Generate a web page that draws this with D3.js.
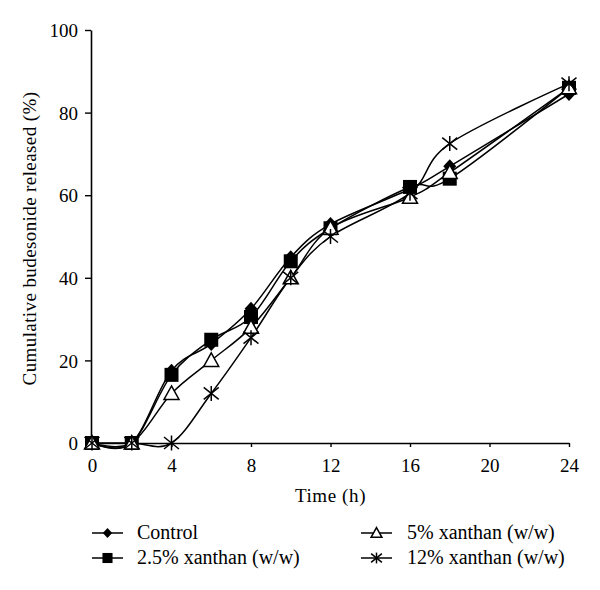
<!DOCTYPE html>
<html>
<head>
<meta charset="utf-8">
<script src="https://cdn.jsdelivr.net/npm/d3@7"></script>
<style>
  body { margin: 0; background: #fff; }
  text { font-family: "Liberation Serif", "DejaVu Serif", serif; fill: #000; }
</style>
</head>
<body>
<div id="chart"></div>
<script>
// time points (h)
const times = [0, 2, 4, 6, 8, 10, 12, 16, 18, 24];

// cumulative budesonide released (%)
const control = [0, 0, 17.5, 24, 32.5, 45, 53, 61.5, 67, 84.5];
const xanthan25 = [0, 0, 16.5, 25, 30.5, 44, 52, 62, 64, 86];
const xanthan5 = [0, 0, 12, 20, 28, 40, 52, 59.5, 65.5, 86];
const xanthan12 = [0, 0, 0, 12, 25.5, 40, 50, 60.5, 72.5, 87];

const xTicks = [0, 4, 8, 12, 16, 20, 24];
const yTicks = [0, 20, 40, 60, 80, 100];

const series = [
  { name: "Control", values: control, symbol: "diamond" },
  { name: "2.5% xanthan (w/w)", values: xanthan25, symbol: "square" },
  { name: "5% xanthan (w/w)", values: xanthan5, symbol: "triangle" },
  { name: "12% xanthan (w/w)", values: xanthan12, symbol: "star" }
];

const width = 600, height = 590;
const svg = d3.select("#chart").append("svg")
  .attr("width", width).attr("height", height);

const x = d3.scaleLinear().domain([0, 24]).range([92, 569]);
const y = d3.scaleLinear().domain([0, 100]).range([443, 30]);

// axes
const xAxis = svg.append("g")
  .attr("transform", `translate(0, ${y(0)})`)
  .call(d3.axisBottom(x).tickValues(xTicks).tickSize(4).tickSizeOuter(0).tickPadding(12));
const yAxis = svg.append("g")
  .attr("transform", `translate(${x(0) - 1}, 0)`)
  .call(d3.axisLeft(y).tickValues(yTicks).tickSize(6).tickSizeOuter(0).tickPadding(7));

[xAxis, yAxis].forEach(g => {
  g.select(".domain").attr("stroke", "#000").attr("stroke-width", 1.6);
  g.selectAll(".tick line").attr("stroke", "#000").attr("stroke-width", 1.4);
  g.selectAll(".tick text")
    .style("font-family", '"Liberation Serif", serif')
    .style("font-size", "19px");
});
yAxis.selectAll(".tick text").attr("dy", "0.35em");

// axis titles
svg.append("text")
  .attr("x", x(12)).attr("y", 502)
  .attr("text-anchor", "middle")
  .style("font-size", "19px")
  .style("letter-spacing", "0.6px")
  .text("Time (h)");

svg.append("text")
  .attr("transform", `translate(36, ${y(50) + 2}) rotate(-90)`)
  .attr("text-anchor", "middle")
  .style("font-size", "19px")
  .style("letter-spacing", "0.4px")
  .text("Cumulative budesonide released (%)");

// markers
function drawMarker(g, type, cx, cy, k = 1) {
  if (type === "diamond") {
    g.append("path")
      .attr("d", `M${cx},${cy - 7 * k}L${cx + 6.5 * k},${cy}L${cx},${cy + 7 * k}L${cx - 6.5 * k},${cy}Z`)
      .attr("fill", "#000");
  } else if (type === "square") {
    g.append("rect")
      .attr("x", cx - 7 * k).attr("y", cy - 7 * k)
      .attr("width", 14 * k).attr("height", 14 * k)
      .attr("fill", "#000");
  } else if (type === "triangle") {
    g.append("path")
      .attr("d", `M${cx},${cy - 7.5 * k}L${cx + 7.5 * k},${cy + 6 * k}L${cx - 7.5 * k},${cy + 6 * k}Z`)
      .attr("fill", "#fff").attr("stroke", "#000").attr("stroke-width", 1.5);
  } else if (type === "star") {
    const r = 7.5 * k;
    const p = g.append("g").attr("stroke", "#000").attr("stroke-width", 1.5);
    p.append("line").attr("x1", cx - r).attr("y1", cy - r * 0.8).attr("x2", cx + r).attr("y2", cy + r * 0.8);
    p.append("line").attr("x1", cx - r).attr("y1", cy + r * 0.8).attr("x2", cx + r).attr("y2", cy - r * 0.8);
    p.append("line").attr("x1", cx).attr("y1", cy - r).attr("x2", cx).attr("y2", cy + r);
  }
}

const line = d3.line()
  .x(d => x(d[0]))
  .y(d => y(d[1]))
  .curve(d3.curveCardinal.tension(0));

const plot = svg.append("g");
series.forEach(s => {
  const pts = times.map((t, i) => [t, s.values[i]]);
  plot.append("path")
    .datum(pts)
    .attr("d", line)
    .attr("fill", "none")
    .attr("stroke", "#000")
    .attr("stroke-width", 1.5);
});
series.forEach(s => {
  const g = plot.append("g");
  times.forEach((t, i) => drawMarker(g, s.symbol, x(t), y(s.values[i])));
});

// legend
const legendPos = [
  { lx: 92, ly: 533 },
  { lx: 92, ly: 558 },
  { lx: 361, ly: 533 },
  { lx: 361, ly: 558 }
];
series.forEach((s, i) => {
  const p = legendPos[i];
  const g = svg.append("g");
  g.append("line")
    .attr("x1", p.lx).attr("x2", p.lx + 31)
    .attr("y1", p.ly).attr("y2", p.ly)
    .attr("stroke", "#000").attr("stroke-width", 1.5);
  drawMarker(g, s.symbol, p.lx + 15.5, p.ly, 0.72);
  g.append("text")
    .attr("x", p.lx + (i < 2 ? 45 : 46)).attr("y", p.ly + 6)
    .style("font-size", "20px")
    .text(s.name);
});
</script>
</body>
</html>
